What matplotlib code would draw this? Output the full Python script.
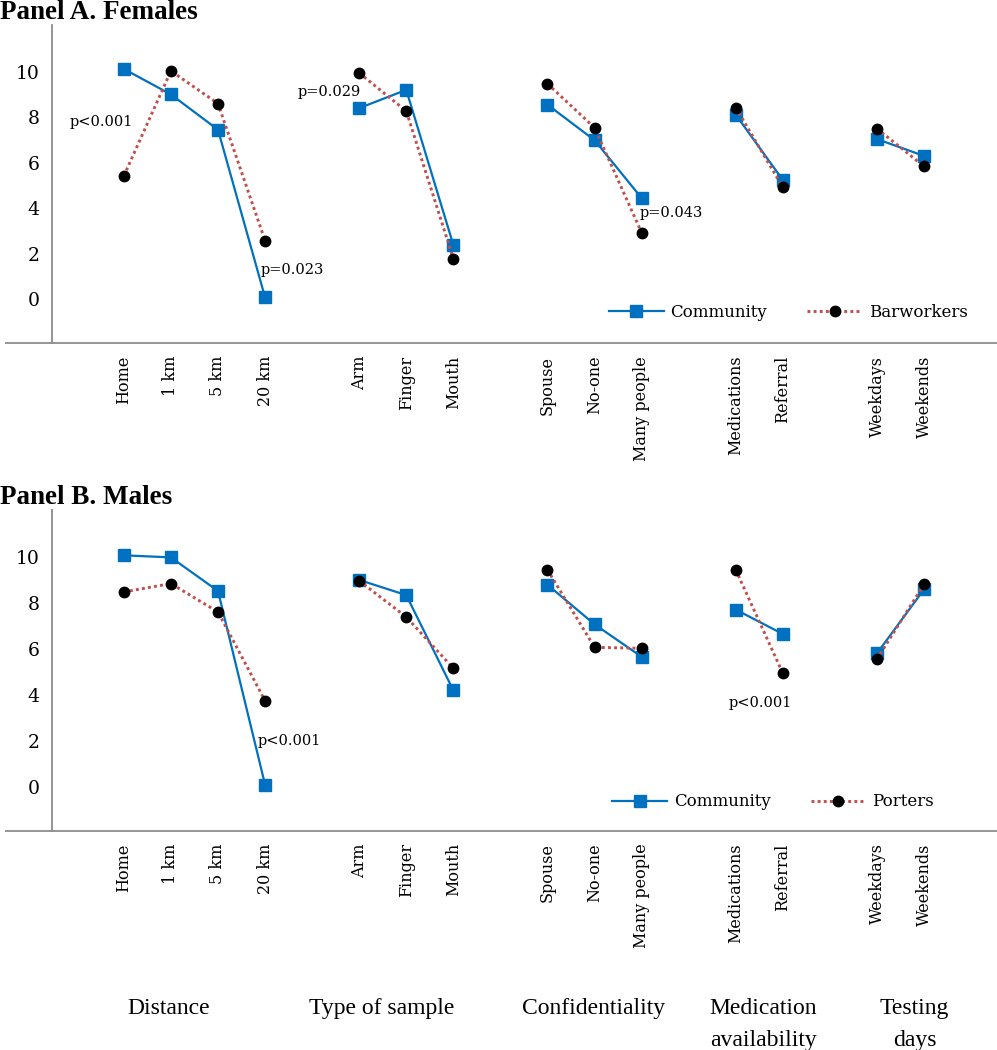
"""
Preference profiles: community vs barworkers (females) and community vs porters (males).
"""
import matplotlib
matplotlib.use("Agg")
import matplotlib.pyplot as plt
import matplotlib.transforms as mtransforms

W, H = 997, 1050

# ── data ────────────────────────────────────────────────────────────────────
group_names = ["Distance", "Type of sample", "Confidentiality",
               "Medication\navailability", "Testing\ndays"]
group_items = [
    ["Home", "1 km", "5 km", "20 km"],
    ["Arm", "Finger", "Mouth"],
    ["Spouse", "No-one", "Many people"],
    ["Medications", "Referral"],
    ["Weekdays", "Weekends"],
]

fem_community = [10.12, 9.00, 7.45, 0.09, 8.40, 9.20, 2.39, 8.55, 6.99, 4.45, 8.11, 5.24, 7.04, 6.30]
fem_barworkers = [5.42, 10.03, 8.60, 2.58, 9.94, 8.27, 1.79, 9.47, 7.54, 2.93, 8.42, 4.92, 7.50, 5.84]
male_community = [10.06, 9.97, 8.51, 0.09, 8.99, 8.33, 4.19, 8.78, 7.06, 5.65, 7.70, 6.64, 5.80, 8.58]
male_porters = [8.47, 8.83, 7.60, 3.74, 8.95, 7.38, 5.15, 9.43, 6.06, 6.02, 9.43, 4.93, 5.55, 8.80]

fem_notes = [("p<0.001", -0.48, 7.8), ("p=0.029", 4.36, 9.12),
             ("p=0.023", 3.57, 1.29), ("p=0.043", 11.64, 3.78)]
male_notes = [("p<0.001", 3.52, 1.99), ("p<0.001", 13.53, 3.63)]

yticks = [0, 2, 4, 6, 8, 10]

BLUE = "#0070C0"
RED = "#C0504D"
GREY = "#8C8C8C"
SERIF = "DejaVu Serif"
TITLE_FONT = "Liberation Serif"

# category slots with a blank slot between groups (like the Excel original)
pos, labels, group_id = [], [], []
slot = 0
for g, items in enumerate(group_items):
    for it in items:
        pos.append(slot)
        labels.append(it)
        group_id.append(g)
        slot += 1
    slot += 1


def draw_panel(ax, community, other, other_name, notes, ylim, legend_xy):
    for g in range(len(group_items)):
        idx = [i for i, gi in enumerate(group_id) if gi == g]
        xs = [pos[i] for i in idx]
        ax.plot(xs, [community[i] for i in idx], color=BLUE, lw=1.6,
                marker="s", ms=8, mfc=BLUE, mec=BLUE,
                label="Community" if g == 0 else None, zorder=3)
        ax.plot(xs, [other[i] for i in idx], color=RED, lw=2.1,
                ls=(0, (1, 1.1)), marker="o", ms=7.5, mfc="black", mec="black",
                label=other_name if g == 0 else None, zorder=4)

    for txt, x, y in notes:
        ax.text(x, y, txt, ha="center", va="center", fontsize=10.5, family=SERIF)

    ax.set_xlim(-1.52, 18.55)
    ax.set_ylim(*ylim)
    ax.set_yticks(yticks)
    ax.set_yticklabels([str(v) for v in yticks], family=SERIF, fontsize=13.5)
    ax.set_xticks(pos)
    ax.set_xticklabels(labels, rotation=90, ha="center", va="top",
                       family=SERIF, fontsize=11.5)
    ax.tick_params(length=0)
    ax.tick_params(axis="y", pad=9)
    ax.tick_params(axis="x", pad=9)

    for side in ("top", "right"):
        ax.spines[side].set_visible(False)
    for side in ("left", "bottom"):
        ax.spines[side].set_color(GREY)
        ax.spines[side].set_linewidth(1.3)
    # horizontal axis line runs a little past the value axis on the left
    ax.plot([-0.05, 0], [0, 0], transform=ax.transAxes, color=GREY, lw=1.3,
            clip_on=False, solid_capstyle="butt")

    ax.legend(loc="center", bbox_to_anchor=legend_xy, ncol=2, frameon=False,
              handlelength=3.3, handletextpad=0.4, columnspacing=2.4,
              prop={"family": SERIF, "size": 12})


fig = plt.figure(figsize=(W / 100, H / 100), dpi=100)

left = 52.3 / W
ax_a = fig.add_axes([left, 1 - 343.3 / H, 1 - left, (343.3 - 25) / H])
ax_b = fig.add_axes([left, 1 - 830.7 / H, 1 - left, (830.7 - 510) / H])

draw_panel(ax_a, fem_community, fem_barworkers, "Barworkers", fem_notes,
           (-1.93, 12.05), (0.779, 0.098))
draw_panel(ax_b, male_community, male_porters, "Porters", male_notes,
           (-1.91, 12.03), (0.763, 0.090))

fig.text(0.0, 1 - 19 / H, "Panel A. Females", ha="left", va="baseline",
         family=TITLE_FONT, fontweight="bold", fontsize=19.5)
fig.text(0.0, 1 - 504 / H, "Panel B. Males", ha="left", va="baseline",
         family=TITLE_FONT, fontweight="bold", fontsize=19.5)

# group captions under the lower panel
group_x = [0.96, 5.47, 9.97, 13.58, 16.8]
trans = mtransforms.blended_transform_factory(ax_b.transData, fig.transFigure)
for name, gx in zip(group_names, group_x):
    for k, line in enumerate(name.split("\n")):
        fig.text(gx, 1 - (1014 + 32 * k) / H, line, transform=trans,
                 ha="center", va="baseline", family=TITLE_FONT, fontsize=17)

plt.savefig("out.png", dpi=100)
plt.close()
